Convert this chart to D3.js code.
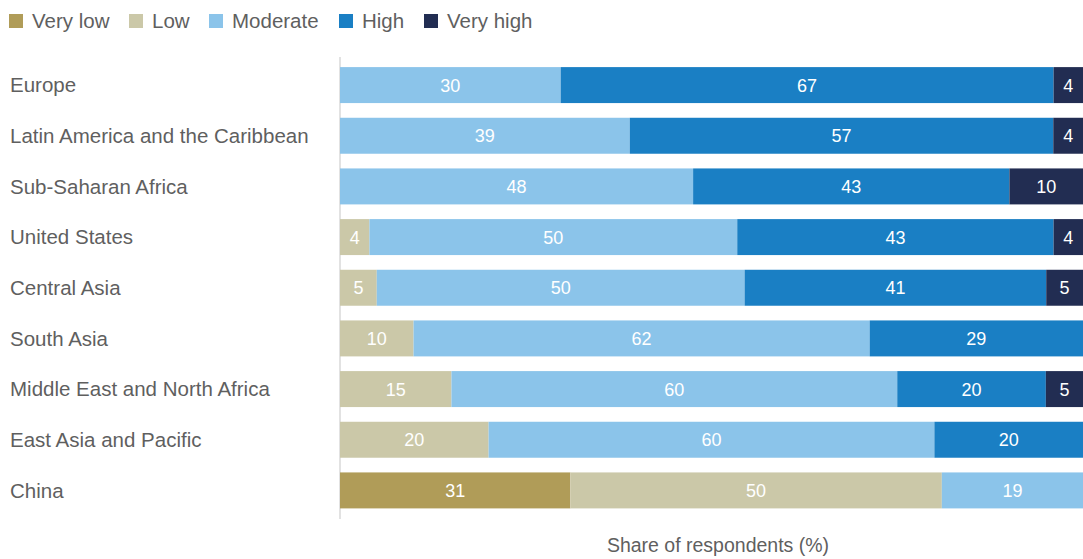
<!DOCTYPE html>
<html>
<head>
<meta charset="utf-8">
<script src="https://cdn.jsdelivr.net/npm/d3@7"></script>
<style>
  body { margin: 0; background: #fff; }
  text { font-family: "Liberation Sans", Arial, sans-serif; }
</style>
</head>
<body>
<script>
const LEVELS = ["Very low", "Low", "Moderate", "High", "Very high"]
const COLORS = ["#b09c58", "#cbc8a8", "#8bc4ea", "#1a7fc4", "#222d52"]

const REGIONS = [
  "Europe",
  "Latin America and the Caribbean",
  "Sub-Saharan Africa",
  "United States",
  "Central Asia",
  "South Asia",
  "Middle East and North Africa",
  "East Asia and Pacific",
  "China"
]

// values per level, one entry per region (same order as REGIONS)
const VERY_LOW  = [0, 0, 0, 0, 0, 0, 0, 0, 31]
const LOW       = [0, 0, 0, 4, 5, 10, 15, 20, 50]
const MODERATE  = [30, 39, 48, 50, 50, 62, 60, 60, 19]
const HIGH      = [67, 57, 43, 43, 41, 29, 20, 20, 0]
const VERY_HIGH = [4, 4, 10, 4, 5, 0, 5, 0, 0]

const m = { width: 1083, height: 559 }

const svg = d3.select("body").append("svg")
    .attr("width", m.width)
    .attr("height", m.height)

// each row scaled to its own total (rounded shares add to 99-101)
const series = [VERY_LOW, LOW, MODERATE, HIGH, VERY_HIGH]
const rows = REGIONS.map(function(r, i) {
  let total = d3.sum(series, s => s[i])
  let x0 = 0
  let segs = series.map(function(s, j) {
    let share = s[i] / total * 100
    let seg = { region: r, level: j, value: s[i], x0: x0, x1: x0 + share }
    x0 += share
    return seg
  })
  return segs.filter(d => d.value > 0)
})

const x = d3.scaleLinear().domain([0, 100]).range([340, 1083])
const y = d3.scaleBand().domain(REGIONS).range([59.5, 516]).paddingInner(0.29).paddingOuter(0.15)

// thin axis line on the left
svg.append("line")
    .attr("x1", 340).attr("x2", 340)
    .attr("y1", 57).attr("y2", 519)
    .attr("stroke", "#d9d9d9")
    .attr("stroke-width", 1.5)

const g = svg.append("g")

g.selectAll("g.row")
  .data(rows)
  .enter()
  .append("g")
    .attr("class", "row")
  .each(function(segs) {
    let row = d3.select(this)
    row.selectAll("rect")
      .data(segs)
      .enter()
      .append("rect")
        .attr("x", d => x(d.x0))
        .attr("width", d => x(d.x1) - x(d.x0))
        .attr("y", d => y(d.region))
        .attr("height", y.bandwidth())
        .attr("fill", d => COLORS[d.level])
    row.selectAll("text")
      .data(segs)
      .enter()
      .append("text")
        .attr("x", d => (x(d.x0) + x(d.x1)) / 2)
        .attr("y", d => y(d.region) + y.bandwidth() / 2)
        .attr("dy", "0.36em")
        .attr("text-anchor", "middle")
        .attr("fill", "#fff")
        .style("font-size", "18px")
        .text(d => d.value)
  })

// region labels
svg.selectAll("text.region")
  .data(REGIONS)
  .enter()
  .append("text")
    .attr("class", "region")
    .attr("x", 10)
    .attr("y", d => y(d) + y.bandwidth() / 2)
    .attr("dy", "0.36em")
    .attr("fill", "#5f5f5f")
    .style("font-size", "20.5px")
    .text(d => d)

// legend
const legendX = [9, 129, 209, 339, 424]
const legend = svg.selectAll("g.legend")
  .data(LEVELS)
  .enter()
  .append("g")
    .attr("class", "legend")
    .attr("transform", (d, i) => "translate(" + legendX[i] + ",14)")
legend.append("rect")
    .attr("width", 14).attr("height", 14)
    .attr("fill", (d, i) => COLORS[i])
legend.append("text")
    .attr("x", 23)
    .attr("y", 7)
    .attr("dy", "0.36em")
    .attr("fill", "#5f5f5f")
    .style("font-size", "20.5px")
    .text(d => d)

// axis title
svg.append("text")
    .attr("x", 718)
    .attr("y", 545)
    .attr("dy", "0.36em")
    .attr("text-anchor", "middle")
    .attr("fill", "#5f5f5f")
    .style("font-size", "19.5px")
    .text("Share of respondents (%)")
</script>
</body>
</html>
